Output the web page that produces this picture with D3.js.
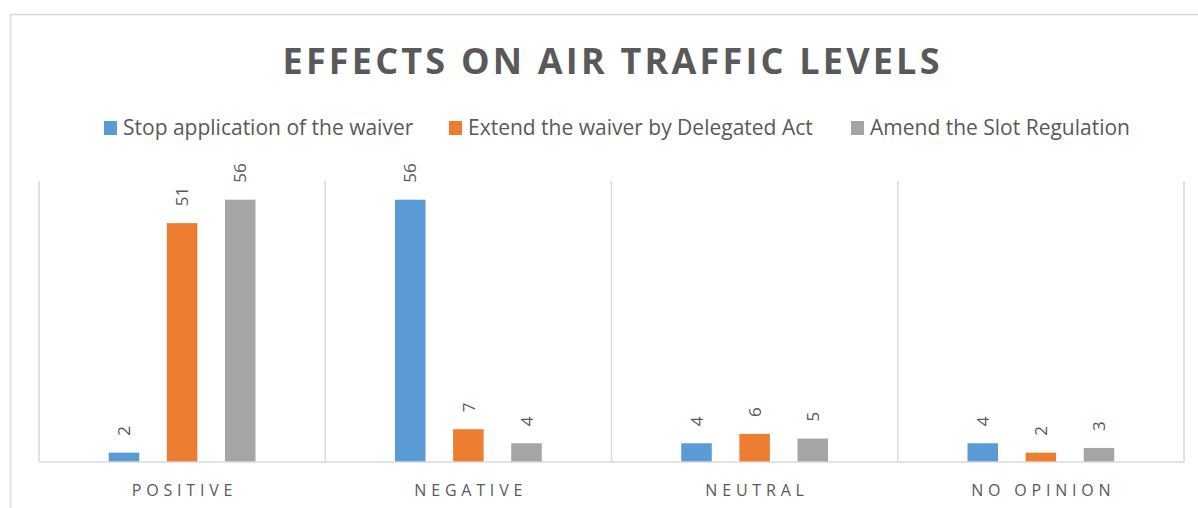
<!DOCTYPE html>
<head>
  <meta charset="utf-8" />
  <script src="https://d3js.org/d3.v7.min.js"></script>
  <style>
    body {
      margin: 0;
      background: #fff;
    }
    text {
      font-family: "Open Sans", Lato, sans-serif;
    }
  </style>
</head>

<body>
  <script>
    var categories = ["POSITIVE", "NEGATIVE", "NEUTRAL", "NO OPINION"];
    var seriesNames = ["Stop application of the waiver", "Extend the waiver by Delegated Act", "Amend the Slot Regulation"];
    var seriesColors = ["#5b9bd5", "#ed7d31", "#a5a5a5"];
    var stopValues = [2, 56, 4, 4];
    var extendValues = [51, 7, 6, 2];
    var amendValues = [56, 4, 5, 3];

    var width = 1198,
      height = 508;

    var svg = d3.select("body").append("svg")
      .attr("width", width)
      .attr("height", height);

    // chart border
    svg.append("rect")
      .attr("x", 10.5).attr("y", 14.5)
      .attr("width", 1200).attr("height", 520)
      .attr("fill", "none")
      .attr("stroke", "#d9d9d9")
      .attr("stroke-width", 1.5);

    var titleSpacing = 3.2;
    svg.append("text")
      .attr("x", 611 + titleSpacing / 2).attr("y", 74)
      .attr("text-anchor", "middle")
      .attr("fill", "#595959")
      .style("font-size", "36px")
      .style("font-weight", "bold")
      .style("letter-spacing", titleSpacing + "px")
      .text("EFFECTS ON AIR TRAFFIC LEVELS");

    // legend
    var legendX = [104, 449, 851];
    var legend = svg.append("g").selectAll("g")
      .data(seriesNames)
      .join("g")
      .attr("transform", (d, i) => "translate(" + legendX[i] + ",121)");
    legend.append("rect")
      .attr("width", 13).attr("height", 14)
      .attr("fill", (d, i) => seriesColors[i]);
    legend.append("text")
      .attr("x", 19).attr("y", 14)
      .attr("fill", "#595959")
      .style("font-size", "21px")
      .text(d => d);

    var margin = { left: 39, right: 14, top: 181, bottom: 46 };
    var x0 = d3.scaleBand()
      .domain(categories)
      .range([margin.left, 1184])
      .padding(0);
    var x1 = d3.scaleBand()
      .domain([0, 1, 2])
      .range([0, x0.bandwidth()])
      .paddingInner(0.475)
      .paddingOuter(1.2);
    var y = d3.scaleLinear()
      .domain([0, 60])
      .range([462, margin.top]);

    // vertical category gridlines
    var bounds = categories.map(c => x0(c)).concat([1184]);
    svg.append("g").selectAll("line")
      .data(bounds)
      .join("line")
      .attr("x1", d => d).attr("x2", d => d)
      .attr("y1", y(60)).attr("y2", y(0))
      .attr("stroke", "#d9d9d9")
      .attr("stroke-width", 1.5);

    var table = categories.map((c, i) => ({
      cat: c,
      values: [stopValues[i], extendValues[i], amendValues[i]]
    }));

    var groups = svg.append("g").selectAll("g")
      .data(table)
      .join("g")
      .attr("transform", d => "translate(" + x0(d.cat) + ",0)");

    groups.selectAll("rect")
      .data(d => d.values)
      .join("rect")
      .attr("x", (d, i) => x1(i))
      .attr("y", d => y(d))
      .attr("width", x1.bandwidth())
      .attr("height", d => y(0) - y(d))
      .attr("fill", (d, i) => seriesColors[i]);

    groups.selectAll("text")
      .data(d => d.values)
      .join("text")
      .attr("transform", (d, i) => "translate(" + (x1(i) + x1.bandwidth() / 2) + "," + (y(d) - 17) + ") rotate(-90)")
      .attr("dy", "0.36em")
      .attr("fill", "#595959")
      .style("font-size", "17px")
      .text(d => d);

    // baseline
    svg.append("line")
      .attr("x1", margin.left).attr("x2", 1184)
      .attr("y1", y(0)).attr("y2", y(0))
      .attr("stroke", "#d9d9d9")
      .attr("stroke-width", 1.5);

    // category labels
    var catSpacing = 4.8;
    svg.append("g").selectAll("text")
      .data(categories)
      .join("text")
      .attr("x", d => x0(d) + x0.bandwidth() / 2 + catSpacing / 2)
      .attr("y", 496)
      .attr("text-anchor", "middle")
      .attr("fill", "#595959")
      .style("font-size", "16px")
      .style("letter-spacing", catSpacing + "px")
      .text(d => d);
  </script>
</body>
